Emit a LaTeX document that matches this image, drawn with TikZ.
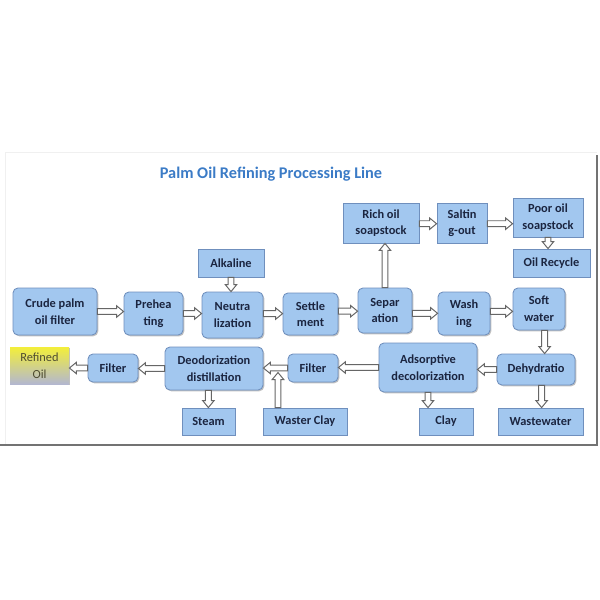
\documentclass[tikz,border=0pt]{standalone}
\usepackage{fontspec}
\setmainfont{Carlito}
\usetikzlibrary{calc,shadows}
\definecolor{boxfill}{HTML}{A2C7EF}
\definecolor{boxborder}{HTML}{6F8FBD}
\definecolor{txt}{HTML}{1B2540}
\definecolor{arrgray}{HTML}{666666}
\definecolor{titleblue}{HTML}{3B7BC6}
\definecolor{refyellow}{HTML}{F3EF3A}
\definecolor{refgray}{HTML}{B3B7CF}
\definecolor{reftext}{HTML}{4E4C30}
\begin{document}
\begin{tikzpicture}[x=0.025cm,y=-0.025cm,
  wh/.style 2 args={minimum width=#1*0.025cm, minimum height=#2*0.025cm},
  base/.style={fill=boxfill, draw=boxborder, line width=0.6pt, text=txt,
    font=\bfseries\fontsize{8.8}{11.8}\selectfont, align=center, inner sep=0pt,
    drop shadow={shadow xshift=0.9pt, shadow yshift=-0.9pt, opacity=0.35, fill=black!70}},
  rbox/.style={base, rounded corners=3.5pt},
  sbox/.style={base},
  barrow/.style={draw=arrgray, fill=white, line width=0.7pt, line join=miter,
    to path={let \p1=(\tikztostart), \p2=(\tikztotarget),
      \n1={atan2(\y2-\y1,\x2-\x1)}, \n2={veclen(\x2-\x1,\y2-\y1)-5},
      \n3={\n1+90}, \n4={\n1-90} in
      ($(\p1)+(\n3:2.1pt)$) -- ($(\p1)+(\n1:\n2)+(\n3:2.1pt)$)
      -- ($(\p1)+(\n1:\n2)+(\n3:4.1pt)$) -- (\p2)
      -- ($(\p1)+(\n1:\n2)+(\n4:4.1pt)$) -- ($(\p1)+(\n1:\n2)+(\n4:2.1pt)$)
      -- ($(\p1)+(\n4:2.1pt)$) -- cycle}}
]
\useasboundingbox (0,0) rectangle (600,600);
% frame
\draw[black!6, line width=0.6pt] (5,152) -- (597,152);
\draw[black!6, line width=0.6pt] (5,152) -- (5,445);
\draw[black!55, line width=0.9pt] (0,445) -- (597,445) -- (597,155);
% title
\node[text=titleblue, font=\bfseries\fontsize{11.6}{14}\selectfont] (title) at (271,174) {Palm Oil Refining Processing Line};
% main row
\node[rbox, wh={84}{47}] (crude) at (55,311.5) {Crude palm\\oil filter};
\node[rbox, wh={59}{43}] (preh) at (153.5,313.5) {Prehea\\ting};
\node[rbox, wh={61}{46}] (neut) at (232.5,315) {Neutra\\lization};
\node[rbox, wh={55}{42}] (sett) at (310.5,314) {Settle\\ment};
\node[rbox, wh={54}{45}] (sepa) at (385,310.5) {Separ\\ation};
\node[rbox, wh={52}{43}] (wash) at (464,313.5) {Wash\\ing};
\node[rbox, wh={52}{42}] (soft) at (539,309) {Soft\\water};
% top
\node[sbox, wh={66}{28}] (alk) at (231,263) {Alkaline};
\node[sbox, wh={76}{40}] (rich) at (381,223) {Rich oil\\soapstock};
\node[sbox, wh={50}{40}] (salt) at (462,223) {Saltin\\g-out};
\node[sbox, wh={70}{39}] (poor) at (548,217.5) {Poor oil\\soapstock};
\node[sbox, wh={77}{28}] (recy) at (551.5,263) {Oil Recycle};
% second row
\node[sbox, wh={59}{37}, draw=none, top color=refyellow, bottom color=refgray,
  text=reftext, font=\fontsize{8.8}{11.8}\selectfont] (refi) at (39.5,365.5) {Refined\\Oil};
\node[rbox, wh={50}{28}] (fil1) at (113,368) {Filter};
\node[rbox, wh={98}{43}] (deod) at (214,368.5) {Deodorization\\distillation};
\node[rbox, wh={50}{28}] (fil2) at (313,368) {Filter};
\node[rbox, wh={98}{49}] (adso) at (428,367.5) {Adsorptive\\decolorization};
\node[rbox, wh={78}{31}] (dehy) at (536,369.5) {Dehydratio};
% bottom row
\node[sbox, wh={53}{27}] (steam) at (208.5,421.5) {Steam};
\node[sbox, wh={84}{27}] (wclay) at (305,421.5) {Waster Clay};
\node[sbox, wh={54}{27}] (clay) at (446,421.5) {Clay};
\node[sbox, wh={85}{27}] (wwat) at (540.5,421.5) {Wastewater};
% arrows main row
\draw[barrow] (crude.east) to (preh.west |- crude.east);
\draw[barrow] (preh.east) to (neut.west |- preh.east);
\draw[barrow] ([yshift=1pt]neut.east) to ([yshift=1pt]sett.west |- neut.east);
\draw[barrow] ([yshift=2pt]sett.east) to ([yshift=2pt]sepa.west |- sett.east);
\draw[barrow] ([yshift=-2pt]sepa.east) to ([yshift=-2pt]wash.west |- sepa.east);
\draw[barrow] ([yshift=1.5pt]wash.east) to ([yshift=1.5pt]soft.west |- wash.east);
% verticals top
\draw[barrow] (alk.south) to (neut.north -| alk.south);
\draw[barrow] (sepa.north) to (rich.south -| sepa.north);
\draw[barrow] ([yshift=-0.5pt]rich.east) to ([yshift=-0.5pt]salt.west |- rich.east);
\draw[barrow] ([yshift=-0.5pt]salt.east) to ([yshift=-0.5pt]poor.west |- salt.east);
\draw[barrow] (poor.south) to (recy.north -| poor.south);
% right side down
\draw[barrow] ([xshift=4pt]soft.south) to ([xshift=4pt]dehy.north -| soft.south);
\draw[barrow] ([xshift=4pt]dehy.south) to ([xshift=4pt]wwat.north -| dehy.south);
% second row leftwards
\draw[barrow] (dehy.west) to (adso.east |- dehy.west);
\draw[barrow] (adso.west) to (fil2.east |- adso.west);
\draw[barrow] (fil2.west) to (deod.east |- fil2.west);
\draw[barrow] (deod.west) to (fil1.east |- deod.west);
\draw[barrow] (fil1.west) to (refi.east |- fil1.west);
% down to outputs
\draw[barrow] (adso.south) to (clay.north -| adso.south);
\draw[barrow] ([xshift=-4pt]deod.south) to ([xshift=-4pt]steam.north -| deod.south);
\coordinate (wctip) at (278,372.5);
\draw[barrow] (wctip |- wclay.north) to (wctip);
\end{tikzpicture}
\end{document}
